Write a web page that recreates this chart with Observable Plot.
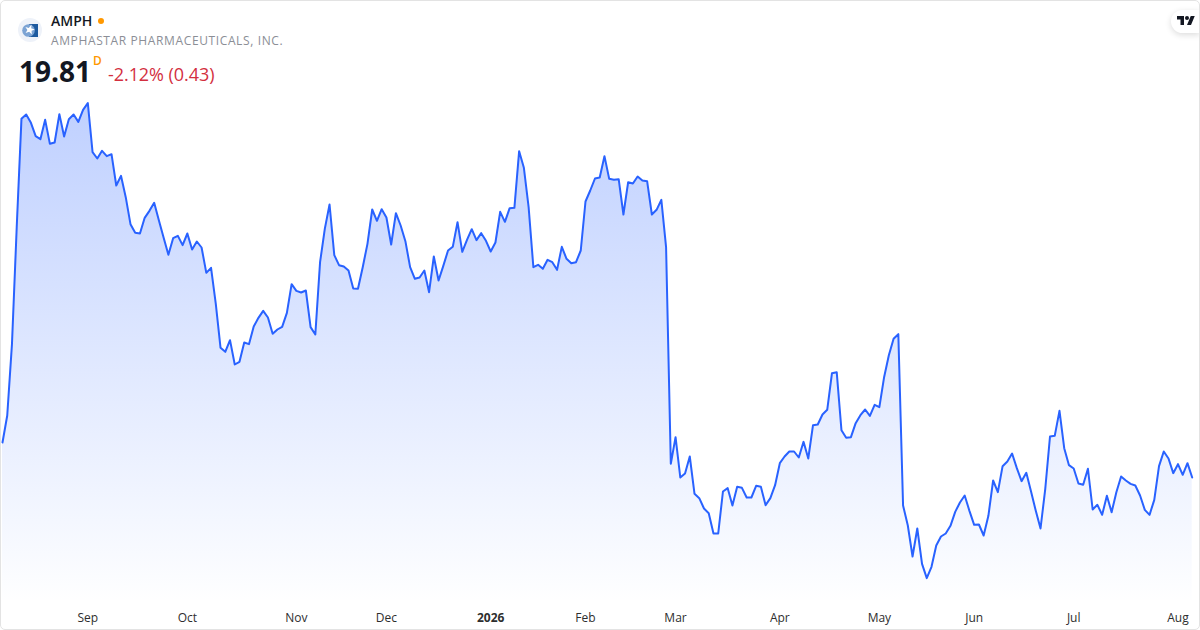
<!DOCTYPE html>
<html>
<head>
<meta charset="utf-8">
<script src="https://cdn.jsdelivr.net/npm/d3@7"></script>
<script src="https://cdn.jsdelivr.net/npm/@observablehq/plot@0.6"></script>
<style>
html,body{margin:0;padding:0;background:#fff;width:1200px;height:630px;overflow:hidden}
#card{position:absolute;left:0;top:0;width:1200px;height:630px;font-family:"Open Sans",sans-serif}
#card svg.plot{position:absolute;left:0;top:0}
#frame{position:absolute;left:0;top:0;width:1198px;height:628px;border:1px solid #e3e3e3;border-radius:5px;pointer-events:none}
.t{position:absolute;white-space:nowrap;line-height:1}
#tick{left:51px;top:14px;font-size:14px;font-weight:600;color:#131722}
#dot{position:absolute;left:98px;top:18px;width:6px;height:6px;border-radius:50%;background:#ff9800}
#name{left:51px;top:35px;font-size:12px;color:#8b8e96;letter-spacing:.62px}
#price{left:19px;top:57px;font-size:28px;font-weight:700;color:#131722}
#res{left:93px;top:55px;font-size:12px;font-weight:600;color:#ff9800}
#chg{left:108px;top:65px;font-size:18px;color:#d32f3f;letter-spacing:-.06px}
#pill{position:absolute;left:1171px;top:10px;width:29px;height:23px;background:#fff;border-radius:12px 0 0 12px;box-shadow:0 2px 6px rgba(0,0,0,.14)}
#logo{position:absolute;left:18px;top:18px}
#tv{position:absolute;left:1177px;top:14px}
</style>
</head>
<body>
<div id="card">
  <div id="chart"></div>
  <svg id="logo" width="24" height="24" viewBox="0 0 24 24">
    <circle cx="12" cy="12" r="12" fill="#eef2f9"/>
    <path d="M11 6H20V19H11Z" fill="#1d5a9f"/>
    <circle cx="10.5" cy="12.5" r="6.3" fill="#7ba3d4"/>
    <path d="M13.5 6.6 L13.2 10.2 L16.8 11.4 L13.6 12.8 L13.8 16.4 L11.2 13.8 L7.6 15 L9.4 12 L7.4 9 L10.8 10 Z" fill="#fff"/>
  </svg>
  <div class="t" id="tick">AMPH</div><div id="dot"></div>
  <div class="t" id="name">AMPHASTAR PHARMACEUTICALS, INC.</div>
  <div class="t" id="price">19.81</div>
  <div class="t" id="res">D</div>
  <div class="t" id="chg">-2.12% (0.43)</div>
  <div id="pill"></div>
  <svg id="tv" width="18" height="14" viewBox="0 0 36 28"><path d="M14 22H7V11H0V4h14v18zM28 22h-8l7.5-18h8L28 22z" fill="#131722"/><circle cx="20" cy="8" r="4" fill="#131722"/></svg>
  <div id="frame"></div>
</div>
<script>
const closes = [
20.86,21.67,23.82,27.32,30.57,30.70,30.45,30.05,29.96,30.54,29.82,29.86,30.71,30.04,30.56,30.70,30.48,30.84,
31.04,29.57,29.38,29.61,29.45,29.51,28.57,28.86,28.22,27.41,27.15,27.13,27.60,27.81,28.05,27.52,27.00,26.49,26.99,27.06,26.78,
27.13,26.65,26.89,26.71,25.95,26.10,25.02,23.70,23.58,23.93,23.20,23.28,23.86,23.81,24.34,24.60,24.81,24.61,24.12,24.25,24.33,24.75,25.61,
25.41,25.36,25.42,24.32,24.10,26.27,27.27,28.00,26.48,26.18,26.14,26.02,25.48,25.47,26.12,26.82,27.85,27.51,27.86,
27.61,26.80,27.74,27.37,26.90,26.12,25.77,25.81,26.02,25.37,26.44,25.72,26.16,26.62,26.73,27.47,26.58,26.94,27.26,26.93,27.14,26.91,
26.59,26.86,27.78,27.48,27.89,27.90,29.60,29.10,27.92,26.12,26.19,26.07,26.34,26.27,26.04,26.73,26.37,26.24,26.27,26.62,
28.09,28.42,28.78,28.81,29.45,28.77,28.74,28.76,27.70,28.67,28.63,28.84,28.72,28.70,27.70,27.84,28.14,26.72,20.22,
21.02,19.81,19.93,20.44,19.32,19.19,18.88,18.74,18.13,18.13,19.39,19.49,18.97,19.53,19.50,19.21,19.21,19.56,19.53,18.98,19.19,19.58,
20.24,20.44,20.59,20.59,20.41,20.88,20.38,21.38,21.40,21.70,21.84,22.94,22.97,21.23,21.00,21.02,21.44,21.68,21.85,21.66,21.99,
21.92,22.82,23.48,23.97,24.11,18.97,18.37,17.44,18.28,17.22,16.79,17.13,17.77,18.04,18.13,18.36,18.78,19.06,19.27,18.81,
18.39,18.40,18.07,18.66,19.72,19.37,20.15,20.29,20.53,20.09,19.70,19.95,19.39,18.81,18.28,19.47,21.04,21.06,21.81,20.69,20.18,
20.08,19.63,19.59,20.07,18.85,18.99,18.69,19.26,18.77,19.37,19.84,19.72,19.62,19.57,19.27,18.84,18.69,19.14,20.15,20.59,20.38,19.94,
20.21,19.89,20.24,19.81];
const monthTicks = [18,39,62,81,123,142,164,185,205,226,248];
const monthLabels = ["Sep","Oct","Nov","Dec","Feb","Mar","Apr","May","Jun","Jul","Aug"];
const yearTicks = [103];
const yearLabels = ["2026"];
const priceFloor = 16.12, priceCeil = 34.12;

const rows = closes.map((close, i) => ({i, close}));
const labelFor = (ticks, labels) => (v) => labels[ticks.indexOf(v)];

const gradient = () => {
  const defs = d3.create("svg:defs");
  const g = defs.append("linearGradient").attr("id","areaFill")
    .attr("gradientUnits","userSpaceOnUse").attr("x1",0).attr("x2",0).attr("y1",100).attr("y2",600);
  g.append("stop").attr("offset",0).attr("stop-color","#2962ff").attr("stop-opacity",0.3);
  g.append("stop").attr("offset",1).attr("stop-color","#2962ff").attr("stop-opacity",0.005);
  return defs.node();
};

const axisStyle = {anchor:"bottom", tickSize:0, tickPadding:13, fontSize:12, color:"#2e2e2e", label:null};

const plot = Plot.plot({
  width:1200, height:630,
  marginLeft:2, marginRight:8.3, marginTop:0, marginBottom:30,
  style:{fontFamily:'"Open Sans",sans-serif', background:"transparent"},
  x:{domain:[0,closes.length-1], axis:null},
  y:{domain:[priceFloor,priceCeil], axis:null},
  marks:[
    gradient,
    Plot.areaY(rows,{x:"i", y1:priceFloor, y2:"close", fill:"url(#areaFill)", curve:"linear"}),
    Plot.lineY(rows,{x:"i", y:"close", stroke:"#2962ff", strokeWidth:2, curve:"linear"}),
    Plot.axisX({...axisStyle, ticks:monthTicks, tickFormat:labelFor(monthTicks,monthLabels)}),
    Plot.axisX({...axisStyle, ticks:yearTicks, tickFormat:labelFor(yearTicks,yearLabels), fontWeight:"bold"})
  ]
});
document.getElementById("chart").appendChild(plot);
</script>
</body>
</html>
